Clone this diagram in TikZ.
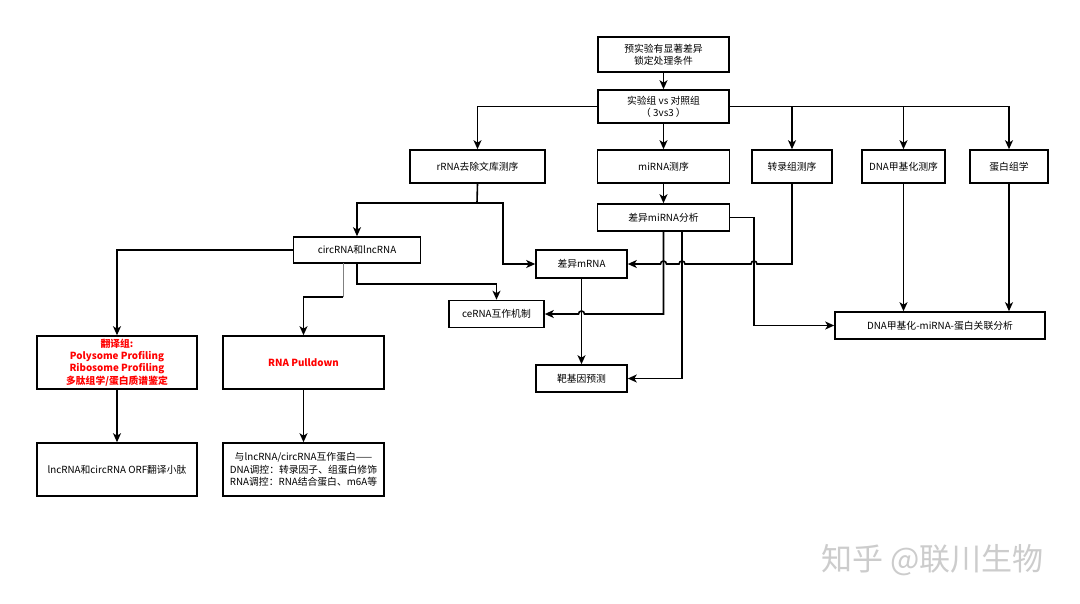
\documentclass[tikz,border=0pt]{standalone}
\usepackage{fontspec}
\setmainfont{Noto Sans CJK SC}
\usetikzlibrary{arrows.meta,calc}
\begin{document}
\begin{tikzpicture}[x=1pt,y=-1pt,
  box/.style={draw=black, line width=1.6pt, fill=white, align=center, inner sep=1pt,
    font=\fontsize{9.8}{12.3}\selectfont},
  conn/.style={line width=1.6pt, -{Stealth[length=9pt,width=8pt,inset=2.5pt]}},
  thinline/.style={line width=0.8pt, draw=gray},
  wmark/.style={text=gray!40, font=\fontsize{31}{33}\selectfont}
]
\useasboundingbox[fill=white] (0,0) rectangle (1080,603);

% top
\node[box, minimum width=131pt, minimum height=35pt] (pre) at (663.5,54.5) {预实验有显著差异\\锁定处理条件};
\node[box, minimum width=131pt, minimum height=33pt] (grp) at (663.5,106.5) {实验组 vs 对照组\\（ 3vs3 ）};

% row 1
\node[box, minimum width=135pt, minimum height=33pt] (rrna) at (477.5,166.5) {rRNA去除文库测序};
\node[box, minimum width=132pt, minimum height=33pt] (mirna) at (663.5,166.5) {miRNA测序};
\node[box, minimum width=80pt, minimum height=33pt] (trans) at (792,166.5) {转录组测序};
\node[box, minimum width=83pt, minimum height=33pt] (dnam) at (903.5,166.5) {DNA甲基化测序};
\node[box, minimum width=78pt, minimum height=33pt] (prot) at (1009,166.5) {蛋白组学};

% middle
\node[box, minimum width=132pt, minimum height=27pt] (dmir) at (663.5,217.5) {差异miRNA分析};
\node[box, minimum width=127pt, minimum height=26pt] (circ) at (357,250) {circRNA和lncRNA};
\node[box, minimum width=91pt, minimum height=28pt] (dmrna) at (581.5,264) {差异mRNA};
\node[box, minimum width=95pt, minimum height=27pt] (cerna) at (496.5,314) {ceRNA互作机制};
\node[box, minimum width=91pt, minimum height=27pt] (target) at (581.5,378.5) {靶基因预测};
\node[box, minimum width=210pt, minimum height=27pt] (assoc) at (940,325.5) {DNA甲基化-miRNA-蛋白关联分析};

% bottom left
\node[box, minimum width=160pt, minimum height=53pt] (ribo) at (117,362.5)
  {\textcolor{red}{\bfseries 翻译组:}\\\textcolor{red}{\bfseries Polysome Profiling}\\\textcolor{red}{\bfseries Ribosome Profiling}\\\textcolor{red}{\bfseries 多肽组学/蛋白质谱鉴定}};
\node[box, minimum width=161pt, minimum height=53pt] (pull) at (303.5,362.5) {\textcolor{red}{\bfseries RNA Pulldown}};
\node[box, minimum width=160pt, minimum height=53pt] (orf) at (117,469.5) {lncRNA和circRNA ORF翻译小肽};
\node[box, minimum width=161pt, minimum height=53pt] (bind) at (303.5,469.5)
  {与lncRNA/circRNA互作蛋白——\\DNA调控：转录因子、组蛋白修饰\\RNA调控：RNA结合蛋白、m6A等};

% watermark
\node[wmark, anchor=west] (wm) at (818,560) {知乎 @联川生物};

% connectors
\draw[conn] (pre.south) -- (grp.north);
\draw[conn] (grp.south) -- (mirna.north);
\draw[conn] (grp.west) -| (rrna.north);
\draw[conn] (grp.east) -| (trans.north);
\draw[conn] (grp.east) -| (dnam.north);
\draw[conn] (grp.east) -| (prot.north);
\draw[conn] (mirna.south) -- (dmir.north);

\coordinate (rj) at (477,203);
\draw[conn] (rrna.south) -- (rj) -| (circ.north);
\draw[conn] (rj) -- (503,203) -- (503,264) -- (dmrna.west);

\draw[conn] (circ.west) -| (ribo.north);
\coordinate (cg) at (343,297);
\draw[thinline] (343,263) -- (cg);
\draw[conn] (cg) -| (pull.north);
\draw[conn] (circ.south) -- ++(0,20) -| (cerna.north);

\draw[conn] (ribo.south) -- (orf.north);
\draw[conn] (pull.south) -- (bind.north);

\draw[conn] (dmrna.south) -- (target.north);
\draw[conn] (dmir.south) -- (663.5,314) -- (584.5,314) arc[start angle=0,end angle=180,radius=3pt] -- (cerna.east);
\draw[conn] (682,231) -- (682,378.5) -- (target.east);
\draw[conn] (trans.south) -- (792,264) -- (757,264) arc[start angle=0,end angle=180,radius=3pt]
  -- (685,264) arc[start angle=0,end angle=180,radius=3pt]
  -- (666.5,264) arc[start angle=0,end angle=180,radius=3pt] -- (dmrna.east);
\draw[conn] (dmir.east) -- (754,217.5) -- (754,325.5) -- (assoc.west);
\draw[conn] (dnam.south) -- (dnam.south |- assoc.north);
\draw[conn] (prot.south) -- (prot.south |- assoc.north);
\end{tikzpicture}
\end{document}
